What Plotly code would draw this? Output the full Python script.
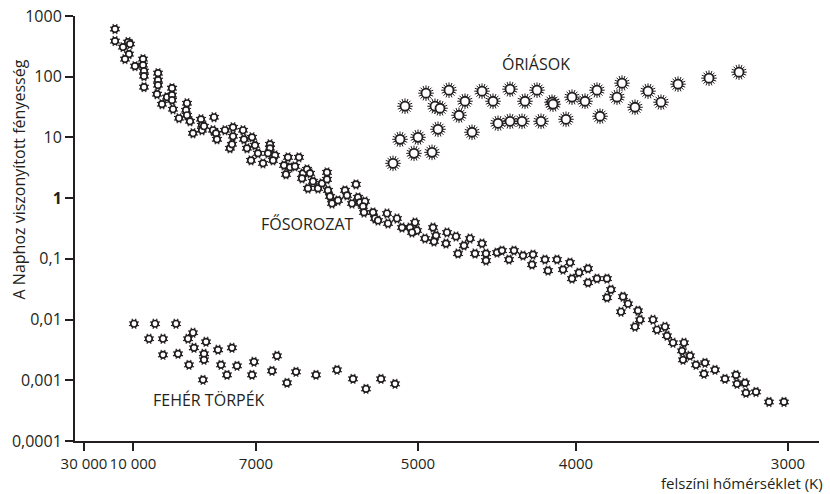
import plotly.graph_objects as go
import numpy as np

# Schematic temperature-axis positions (axis units) and log10 luminosity (L/Lsun)
ms_x = [40, 40, 48, 53, 55, 54, 50, 60, 68, 68, 69, 69, 69, 83, 83, 83, 82, 87, 92, 97,
        97, 97, 98, 104, 112, 111, 112, 115, 118, 126, 127, 127, 129, 139, 138, 141, 142, 150, 158, 158,
        155, 157, 168, 169, 172, 176, 177, 180, 183, 188, 195, 195, 193, 200, 198, 209, 213, 215, 211, 220,
        224, 228, 232, 227, 235, 238, 233, 243, 247, 252, 252, 253, 257, 263, 255, 270, 272, 281, 277, 283,
        285, 290, 288, 289, 298, 300, 303, 312, 313, 322, 327, 335, 340, 342, 350, 337, 358, 361, 359, 372,
        371, 381, 383, 389, 395, 400, 407, 411, 411, 422, 427, 434, 439, 448, 457, 458, 470, 473, 482, 488,
        495, 497, 504, 513, 513, 522, 532, 532, 536, 548, 553, 546, 563, 565, 560, 578, 582, 590, 592, 598,
        609, 607, 608, 615, 621, 630, 629, 640, 650, 661, 662, 670, 671, 681, 694, 709]
ms_logl = [2.785, 2.587, 2.488, 2.571, 2.538, 2.372, 2.290, 2.174, 2.290, 2.191, 2.092, 2.009, 1.828, 2.059, 1.943, 1.861, 1.712, 1.547, 1.663, 1.811,
           1.696, 1.613, 1.464, 1.316, 1.563, 1.448, 1.365, 1.266, 1.068, 1.299, 1.200, 1.118, 1.184, 1.332, 1.118, 1.068, 0.969, 1.118, 1.167, 1.019,
           0.821, 0.887, 1.118, 0.969, 0.821, 0.622, 1.002, 0.870, 0.738, 0.573, 0.887, 0.821, 0.738, 0.705, 0.622, 0.540, 0.672, 0.507, 0.391, 0.523,
           0.672, 0.408, 0.474, 0.325, 0.408, 0.276, 0.160, 0.160, 0.243, 0.309, 0.424, 0.127, -0.088, -0.038, 0.028, 0.127, 0.045, 0.226, -0.088, 0.012,
           -0.071, -0.055, -0.137, -0.236, -0.236, -0.335, -0.368, -0.253, -0.418, -0.335, -0.484, -0.484, -0.401, -0.533, -0.665, -0.566, -0.484, -0.616, -0.715, -0.566,
           -0.748, -0.632, -0.913, -0.781, -0.665, -0.913, -0.748, -0.913, -1.029, -0.897, -0.864, -1.012, -0.864, -0.946, -1.095, -0.930, -1.012, -1.194, -1.012, -1.177,
           -1.062, -1.326, -1.227, -1.161, -1.392, -1.326, -1.326, -1.639, -1.507, -1.623, -1.739, -1.871, -1.854, -2.003, -2.118, -2.003, -2.168, -2.118, -2.267, -2.382,
           -2.382, -2.515, -2.663, -2.597, -2.746, -2.713, -2.894, -2.828, -2.977, -2.911, -3.059, -3.043, -3.208, -3.192, -3.357, -3.357]

giant_x = [318, 325, 339, 343, 357, 363, 330, 351, 360, 365, 374, 384, 390, 397, 407, 418, 423, 435, 435, 447,
           450, 462, 466, 477, 478, 491, 497, 510, 522, 525, 542, 547, 560, 573, 586, 603, 634, 664]
giant_logl = [0.573, 0.969, 0.738, 1.002, 0.754, 1.134, 1.514, 1.729, 1.514, 1.481, 1.778, 1.365, 1.596, 1.085, 1.762, 1.596, 1.233, 1.266, 1.795, 1.266,
              1.596, 1.778, 1.266, 1.580, 1.547, 1.299, 1.663, 1.596, 1.778, 1.349, 1.663, 1.894, 1.497, 1.762, 1.580, 1.877, 1.976, 2.075]

wd_x = [59, 80, 101, 74, 88, 88, 103, 113, 118, 119, 114, 129, 129, 131, 128, 143, 157, 146, 152, 162,
        179, 177, 202, 197, 212, 221, 241, 262, 278, 291, 306, 320]
wd_logl = [-2.069, -2.069, -2.069, -2.316, -2.316, -2.581, -2.564, -2.316, -2.217, -2.465, -2.746, -2.564, -2.663, -2.366, -2.993, -2.498, -2.465, -2.746, -2.911, -2.762,
           -2.696, -2.911, -2.597, -2.845, -3.043, -2.861, -2.911, -2.828, -2.977, -3.142, -2.977, -3.059]

x_tick_pos = [9, 58, 181, 343, 501, 713]
x_tick_text = ["30 000", "10 000", "7000", "5000", "4000", "3000"]
y_tick_vals = [0.0001, 0.001, 0.01, 0.1, 1, 10, 100, 1000]
y_tick_text = ["0,0001", "0,001", "0,01", "0,1", "<b>1</b>", "10", "100", "1000"]

INK = "#231f20"
FONT = "Open Sans"

fig = go.Figure()


def add_stars(xs, logls, spike_size, core_size, angles, spike_w, core_w):
    ys = [10 ** v for v in logls]
    for ang in angles:
        fig.add_trace(go.Scatter(
            x=xs, y=ys, mode="markers", hoverinfo="skip", showlegend=False,
            marker=dict(symbol="asterisk-open", size=spike_size, angle=ang,
                        color=INK, line=dict(color=INK, width=spike_w))))
    fig.add_trace(go.Scatter(
        x=xs, y=ys, mode="markers", showlegend=False,
        marker=dict(symbol="circle", size=core_size, color="white",
                    line=dict(color=INK, width=core_w))))


add_stars(ms_x, ms_logl, 9, 6.5, [22.5], 1.1, 1.7)
add_stars(wd_x, wd_logl, 9, 6.5, [22.5], 1.1, 1.7)
add_stars(giant_x, giant_logl, 13, 9, [0, 22.5], 1.0, 1.8)

fig.update_layout(
    width=830, height=494,
    margin=dict(l=75, r=11, t=16, b=53),
    paper_bgcolor="white", plot_bgcolor="white",
    font=dict(family=FONT, size=16, color=INK),
    xaxis=dict(range=[0, 744], showgrid=False, zeroline=False, automargin=False,
               showline=True, linecolor=INK, linewidth=2,
               tickmode="array", tickvals=x_tick_pos, ticktext=x_tick_text, tickangle=0,
               ticks="outside", ticklen=8, tickwidth=1.5, tickcolor=INK,
               tickfont=dict(family=FONT, size=15, color=INK)),
    yaxis=dict(type="log", range=[-4, 3], showgrid=False, zeroline=False, automargin=False,
               showline=True, linecolor=INK, linewidth=2,
               tickmode="array", tickvals=y_tick_vals, ticktext=y_tick_text,
               ticks="outside", ticklen=8, tickwidth=1.5, tickcolor=INK,
               tickfont=dict(family=FONT, size=16, color=INK)),
    annotations=[
        dict(text="ÓRIÁSOK", x=461, y=2.21, xref="x", yref="y", showarrow=False,
             font=dict(family=FONT, size=16, color=INK)),
        dict(text="FŐSOROZAT", x=232, y=-0.418, xref="x", yref="y", showarrow=False,
             font=dict(family=FONT, size=16, color=INK)),
        dict(text="FEHÉR TÖRPÉK", x=134, y=-3.323, xref="x", yref="y", showarrow=False,
             font=dict(family=FONT, size=16, color=INK)),
        dict(text="A Naphoz viszonyított fényesség", textangle=-90,
             x=-0.075, y=0.616, xref="paper", yref="paper", showarrow=False,
             xanchor="center", yanchor="middle",
             font=dict(family=FONT, size=16, color=INK)),
        dict(text="felszíni hőmérséklet (K)", x=1.0067, y=-0.1247,
             xref="paper", yref="paper", showarrow=False, borderpad=0,
             xanchor="right", yanchor="bottom",
             font=dict(family=FONT, size=15, color=INK)),
    ],
)

fig.write_html("out.html", config={"displayModeBar": False},
               post_script="document.body.style.margin='0px';")
